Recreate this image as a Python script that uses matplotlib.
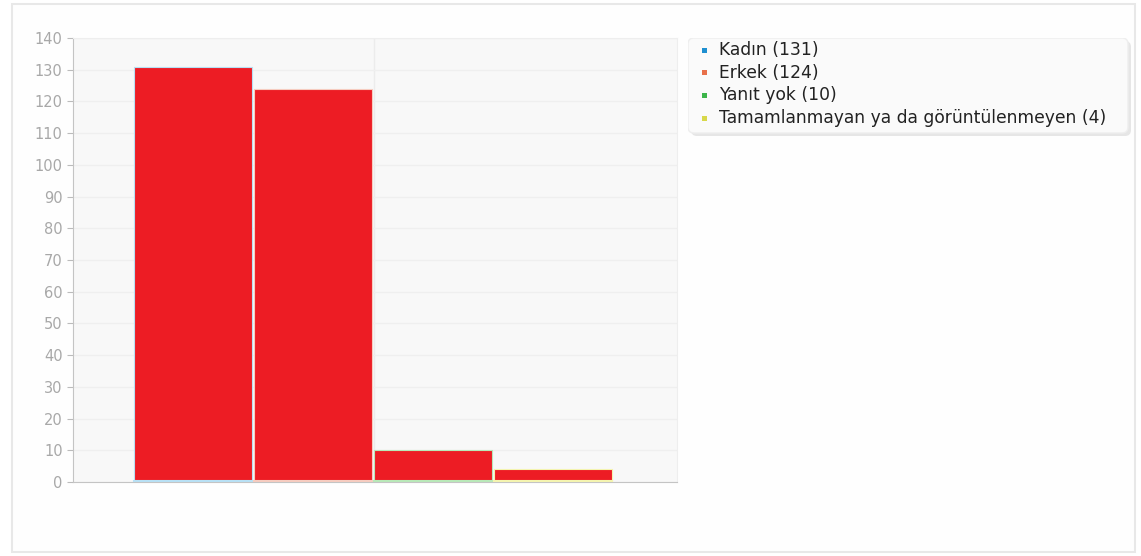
import matplotlib.pyplot as plt
from matplotlib.patches import Rectangle, FancyBboxPatch

# Veriler
categories = ["Kadın", "Erkek", "Yanıt yok", "Tamamlanmayan ya da görüntülenmeyen"]
values = [131, 124, 10, 4]
series_colors = ["#1f8fd0", "#e8704a", "#3cb54a", "#d8d84a"]
edge_colors = ["#b8e0f4", "#f6ccc0", "#b8e8b8", "#f4f4b0"]
bar_color = "#ed1c24"

fig = plt.figure(figsize=(11.41, 5.56), dpi=100)
fig.patch.set_facecolor("white")

# Dış çerçeve
fig.patches.append(Rectangle((12 / 1141, 4 / 556), 1123 / 1141, 548 / 556,
                             transform=fig.transFigure, facecolor="#fefefe",
                             edgecolor="#e8e8e8", linewidth=1.5, zorder=-5))

ax = fig.add_axes([73 / 1141, 1 - 482 / 556, 604 / 1141, 444 / 556])
ax.set_facecolor("#f8f8f8")

for i, v in enumerate(values):
    ax.bar(i, v, width=0.98, color=bar_color, edgecolor=edge_colors[i],
           linewidth=0.8, zorder=3)
    ax.plot([i - 0.49, i + 0.49], [0.3, 0.3], color=edge_colors[i], lw=1.5, zorder=4)

ax.set_xlim(-1.0, 4.03)
ax.set_ylim(0, 140)
ax.set_yticks(range(0, 141, 10))
ax.set_xticks([])
ax.axvline(1.51, color="#ececec", lw=1, zorder=1)
ax.grid(axis="y", color="#efefef", lw=1, zorder=1)
ax.tick_params(axis="y", colors="#bbbbbb", labelcolor="#a8a8a8", labelsize=10.5, length=4)
for s in ["top", "right"]:
    ax.spines[s].set_color("#eeeeee")
for s in ["left", "bottom"]:
    ax.spines[s].set_color("#c4c4c4")

# Lejant
legend_ax = fig.add_axes([688 / 1141, 1 - 140 / 556, 446 / 1141, 102 / 556])
legend_ax.axis("off")
legend_ax.set_xlim(0, 446)
legend_ax.set_ylim(102, 0)
legend_ax.add_patch(FancyBboxPatch((3, 3), 440, 95, boxstyle="round,pad=0,rounding_size=6",
                                   facecolor="#e6e6e6", edgecolor="none"))
legend_ax.add_patch(FancyBboxPatch((0, 0), 440, 95, boxstyle="round,pad=0,rounding_size=6",
                                   facecolor="#fafafa", edgecolor="#eeeeee"))
for i, (c, v) in enumerate(zip(categories, values)):
    y = 12 + i * 22.7
    legend_ax.add_patch(Rectangle((14, y - 2.5), 5, 5, facecolor=series_colors[i], edgecolor="none"))
    legend_ax.text(31, y, f"{c} ({v})", fontsize=12.3, color="#222222", va="center", ha="left")

fig.savefig("out.png", dpi=100)
